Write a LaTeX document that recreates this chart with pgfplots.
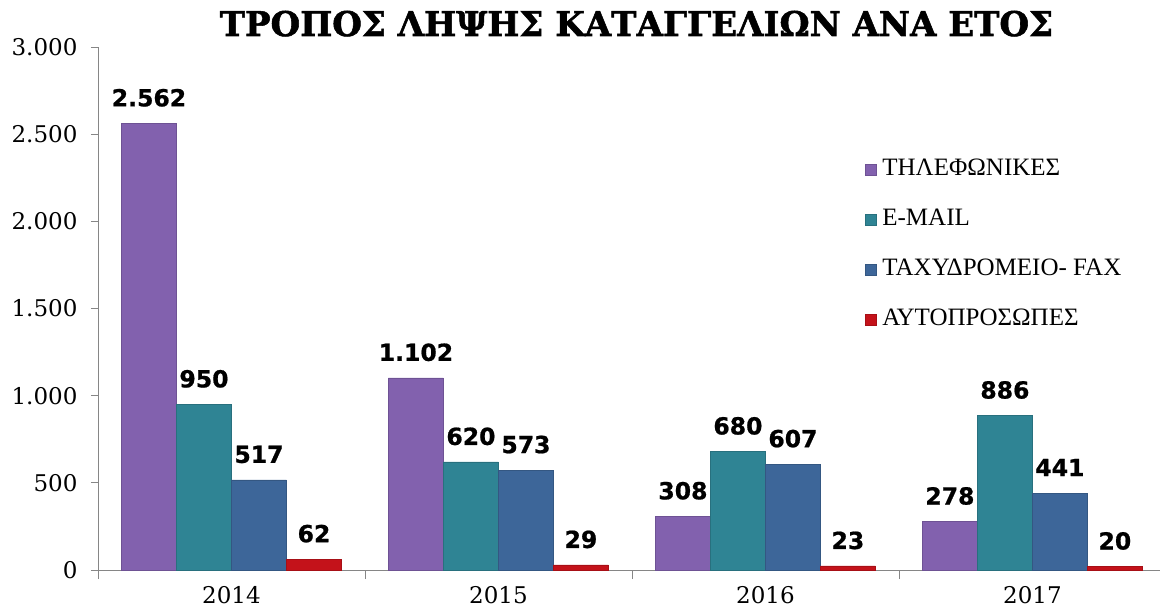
\documentclass[border=0pt]{standalone}
\usepackage{fontspec}
\setmainfont{Liberation Serif}
\newfontfamily\tickfont{DejaVu Serif}
\newfontfamily\titlefont{DejaVu Serif}[BoldFeatures={FakeBold=1.6}]
\newfontfamily\labfont{DejaVu Sans}[BoldFeatures={FakeBold=0.8}]
\usepackage{pgfplots}
\pgfplotsset{compat=1.18}
\definecolor{cP}{RGB}{130,97,174}
\definecolor{cT}{RGB}{47,132,148}
\definecolor{cB}{RGB}{61,102,153}
\definecolor{cR}{RGB}{196,18,26}
\definecolor{axgray}{RGB}{134,134,134}
\begin{document}
\begin{tikzpicture}
\begin{axis}[
  scale only axis, width=1062pt, height=523pt,
  ybar=0pt, bar width=55pt,
  xmin=-0.5, xmax=3.478, ymin=0, ymax=3000,
  xtick={0,1,2,3}, xticklabels={2014,2015,2016,2017},
  minor xtick={-0.5,0.5,1.5,2.5},
  major x tick style={draw=none},
  minor tick length=9pt, major tick length=7pt,
  ytick={0,500,1000,1500,2000,2500,3000},
  axis lines*=left,
  axis line style={draw=axgray, line width=0.8pt},
  tick style={draw=axgray, line width=0.8pt},
  tick align=outside,
  /pgf/number format/1000 sep={.},
  /pgf/number format/assume math mode=true,
  yticklabel style={font=\tickfont\fontsize{23}{23}\selectfont, xshift=-10pt},
  xticklabel style={font=\tickfont\fontsize{23}{23}\selectfont, yshift=-6pt},
  nodes near coords,
  every node near coord/.append style={font=\labfont\bfseries\fontsize{23.5}{23.5}\selectfont, anchor=base, yshift=17pt, text=black},
  title={ΤΡΟΠΟΣ ΛΗΨΗΣ ΚΑΤΑΓΓΕΛΙΩΝ ΑΝΑ ΕΤΟΣ},
  title style={font=\titlefont\bfseries\fontsize{34}{34}\selectfont, at={(0.507,1)}, anchor=base, yshift=5pt},
  legend style={at={(0.719,0.795)}, anchor=north west, draw=none, fill=none,
    font=\fontsize{25}{25}\selectfont, row sep=24pt, column sep=4pt,
    nodes={text height=17pt, text depth=5pt}},
  legend cell align=left,
  legend image code/.code={\fill[#1] (0pt,-5.5pt) rectangle (11pt,5.5pt);},
]
\addplot[fill=cP, draw=cP!85!black, line width=0.6pt] coordinates {(0,2562) (1,1102) (2,308) (3,278)};
\addplot[fill=cT, draw=cT!85!black, line width=0.6pt] coordinates {(0,950) (1,620) (2,680) (3,886)};
\addplot[fill=cB, draw=cB!85!black, line width=0.6pt] coordinates {(0,517) (1,573) (2,607) (3,441)};
\addplot[fill=cR, draw=cR!85!black, line width=0.6pt] coordinates {(0,62) (1,29) (2,23) (3,20)};
\legend{ΤΗΛΕΦΩΝΙΚΕΣ, E-MAIL, ΤΑΧΥΔΡΟΜΕΙΟ- FAX, ΑΥΤΟΠΡΟΣΩΠΕΣ}
\end{axis}
\pgfresetboundingbox
\useasboundingbox ([xshift=-98pt,yshift=-45pt]current axis.south west) rectangle ([xshift=3pt,yshift=47pt]current axis.north east);
\end{tikzpicture}
\end{document}
